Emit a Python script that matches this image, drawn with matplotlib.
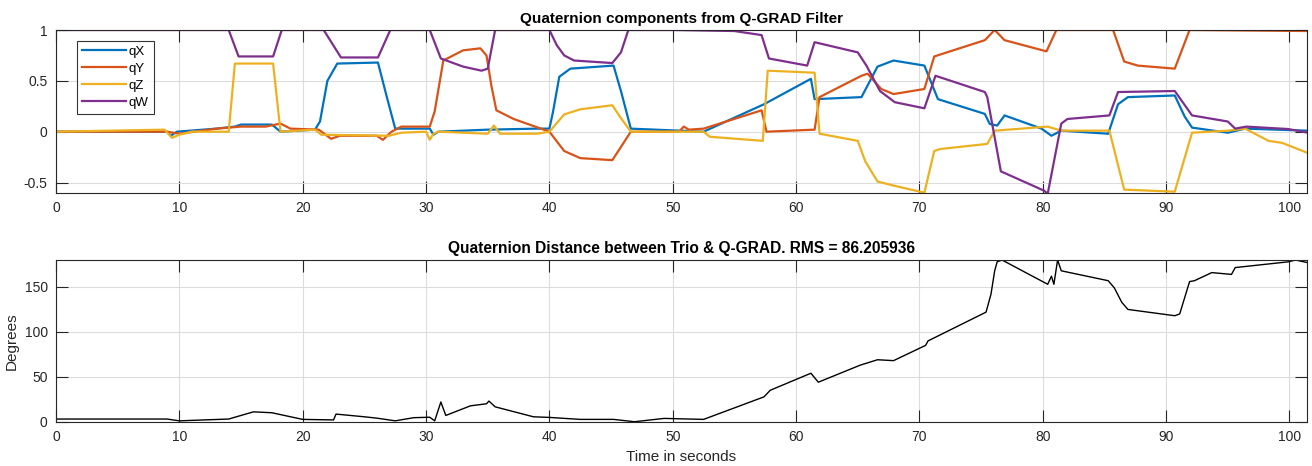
import numpy as np
import matplotlib
matplotlib.use("Agg")
import matplotlib.pyplot as plt
from matplotlib.ticker import FormatStrFormatter

plt.rcParams['font.family'] = ['Liberation Sans', 'DejaVu Sans']
plt.rcParams['axes.unicode_minus'] = False

# quaternion components (time in s, value)
t_qx = [0, 9.0, 9.3, 9.8, 13.0, 14.5, 15.0, 17.5, 18.2, 21.0, 21.4, 22.0, 22.8, 26.1, 26.8,
        27.5, 30.3, 30.6, 31.0, 35.0, 39.0, 40.0, 40.3, 40.8, 41.7, 45.2, 45.8, 46.6, 52.5,
        57.4, 61.2, 61.5, 65.3, 66.6, 67.9, 70.4, 71.5, 75.3, 75.7, 76.3, 76.9, 79.9, 80.7,
        81.5, 85.3, 86.1, 86.9, 90.7, 91.5, 92.1, 95.0, 96.4, 101.5]
qx = [0, 0, -0.04, 0, 0.03, 0.05, 0.07, 0.07, 0.0, 0.02, 0.1, 0.5, 0.67, 0.68, 0.35,
      0.03, 0.03, -0.03, 0.0, 0.02, 0.03, 0.03, 0.2, 0.54, 0.62, 0.65, 0.4, 0.03, 0.0,
      0.27, 0.52, 0.32, 0.34, 0.64, 0.70, 0.65, 0.32, 0.175, 0.076, 0.06, 0.16, 0.03, -0.04,
      0.01, -0.02, 0.27, 0.34, 0.356, 0.15, 0.04, -0.01, 0.03, 0.01]

t_qy = [0, 9.0, 10.0, 13.0, 15.0, 17.0, 18.2, 19.0, 21.3, 22.3, 23.0, 26.0, 26.5, 27.2, 28.0,
        30.3, 30.7, 31.4, 33.0, 34.4, 34.9, 35.3, 35.7, 37.1, 40.0, 41.2, 42.5, 45.1, 45.8,
        46.6, 50.5, 50.9, 51.3, 52.5, 57.2, 57.6, 61.5, 61.9, 65.3, 65.8, 66.9, 67.9, 70.4,
        71.2, 75.3, 76.1, 76.9, 80.3, 81.1, 85.7, 86.6, 87.7, 90.7, 91.9, 101.5]
qy = [0, 0, -0.02, 0.03, 0.05, 0.05, 0.08, 0.03, 0.02, -0.07, -0.04, -0.04, -0.08, 0.0, 0.05,
      0.05, 0.2, 0.70, 0.80, 0.82, 0.75, 0.45, 0.21, 0.125, 0.0, -0.19, -0.26, -0.28, -0.15,
      0.0, 0.0, 0.05, 0.02, 0.03, 0.21, 0.0, 0.02, 0.34, 0.55, 0.57, 0.42, 0.37, 0.42,
      0.74, 0.90, 1.0, 0.90, 0.79, 1.0, 1.0, 0.69, 0.65, 0.62, 1.0, 0.99]

t_qz = [0, 8.8, 9.4, 10.0, 11.0, 14.0, 14.5, 17.6, 18.2, 21.0, 21.5, 27.0, 28.0, 30.0, 30.3,
        30.6, 31.0, 35.0, 35.5, 36.0, 39.0, 40.0, 41.2, 42.5, 45.1, 45.7, 46.6, 52.5, 53.0,
        57.3, 57.7, 61.5, 61.9, 65.0, 65.6, 66.6, 67.9, 70.4, 71.2, 71.7, 75.5, 76.1, 80.4,
        81.5, 85.4, 86.6, 90.7, 92.1, 95.0, 96.4, 98.3, 99.4, 101.5]
qz = [0, 0.02, -0.06, -0.03, 0, 0, 0.67, 0.67, 0.0, 0.02, -0.03, -0.04, -0.01, 0, -0.08,
      -0.02, 0, -0.02, 0.06, -0.02, -0.02, 0, 0.17, 0.22, 0.26, 0.15, 0, 0, -0.05,
      -0.09, 0.60, 0.58, -0.02, -0.09, -0.29, -0.49, -0.53, -0.60, -0.19, -0.17, -0.12, 0.01, 0.05,
      0.01, 0.01, -0.57, -0.59, -0.01, 0.01, 0.03, -0.09, -0.11, -0.21]

t_qw = [0, 14.0, 14.8, 17.6, 18.3, 21.7, 23.1, 26.1, 27.1, 30.3, 31.2, 33.0, 34.5, 35.0, 35.6,
        40.0, 40.6, 41.2, 42.0, 45.1, 45.8, 46.4, 50.0, 55.0, 57.2, 57.8, 60.9, 61.5, 65.0,
        65.7, 66.8, 68.0, 70.4, 71.3, 75.3, 75.5, 76.6, 80.1, 80.4, 81.5, 82.0, 85.4, 86.1,
        90.7, 92.1, 95.0, 95.6, 96.5, 99.9, 101.5]
qw = [1, 1, 0.74, 0.74, 1.0, 1.0, 0.73, 0.73, 1.0, 1.0, 0.72, 0.64, 0.60, 0.62, 1.0,
      1.0, 0.85, 0.75, 0.70, 0.675, 0.78, 1.0, 1.0, 0.99, 0.95, 0.72, 0.65, 0.88, 0.78,
      0.65, 0.40, 0.29, 0.23, 0.55, 0.39, 0.34, -0.39, -0.58, -0.61, 0.08, 0.125, 0.16, 0.39,
      0.40, 0.16, 0.10, 0.03, 0.05, 0.026, -0.01]

# angular distance between the two filters (degrees)
t_dist = [0, 9.0, 10.0, 14.0, 15.0, 16.0, 17.5, 20.0, 22.5, 22.7, 25.0, 26.0, 27.5, 29.0, 30.3,
          30.7, 31.2, 31.6, 33.6, 34.9, 35.1, 35.6, 38.7, 40.0, 42.5, 45.2, 46.9, 49.3, 52.5,
          57.4, 57.9, 61.2, 61.8, 65.2, 66.6, 67.9, 70.5, 70.7, 75.4, 75.8, 76.1, 76.3, 76.7,
          80.4, 80.7, 80.9, 81.2, 81.5, 85.3, 85.8, 86.4, 86.9, 90.7, 91.1, 91.9, 92.3, 93.7,
          95.3, 95.6, 99.9, 100.5, 101.5]
dist = [3, 3, 1, 3, 7, 11, 10, 2.6, 2, 8.5, 5.5, 4, 1, 4.5, 5,
        1, 22, 7, 17.7, 20, 23, 16.6, 5.5, 4.8, 2.6, 2.6, 0, 3.7, 2.6,
        27.7, 35, 54, 44, 63, 69, 68, 85, 90, 122, 142, 168, 178, 180,
        153, 162, 153, 180, 168, 157, 149, 133, 125, 118, 120, 156, 157, 166,
        164, 171.6, 178, 180, 177]
rms = 86.205936

colors = ['#0072BD', '#D95319', '#EDB120', '#7E2F8E']
axcol = '#262626'
gridcol = '#dcdcdc'


def style(ax):
    ax.grid(True, color=gridcol, linewidth=0.8)
    ax.set_axisbelow(True)
    ax.tick_params(direction='in', length=8.5, width=0.8, top=True, right=True,
                   labelsize=10, colors=axcol, pad=6)
    for s in ax.spines.values():
        s.set_color(axcol)
        s.set_linewidth(0.8)


fig = plt.figure(figsize=(13.12, 4.66), dpi=100)
ax1 = fig.add_axes([0.0427, 0.5865, 0.9533, 0.3491])
ax2 = fig.add_axes([0.0427, 0.0950, 0.9533, 0.3470])

for tt, vv, c, lab in zip([t_qx, t_qy, t_qz, t_qw], [qx, qy, qz, qw], colors,
                          ['qX', 'qY', 'qZ', 'qW']):
    ax1.plot(tt, vv, color=c, linewidth=1.6, label=lab)
ax1.set_xlim(0, 101.4)
ax1.set_ylim(-0.6, 1)
ax1.set_xticks(np.arange(0, 101, 10))
ax1.set_yticks([-0.5, 0, 0.5, 1])
ax1.yaxis.set_major_formatter(FormatStrFormatter('%g'))
ax1.set_title('Quaternion components from Q-GRAD Filter', fontsize=11,
              fontweight='bold', pad=5)
style(ax1)
leg = ax1.legend(loc='upper left', bbox_to_anchor=(0.0168, 0.935), fontsize=9.5,
                 handlelength=3.3, frameon=True, fancybox=False, borderpad=0.4,
                 labelspacing=0.35, handletextpad=0.2, borderaxespad=0)
leg.get_frame().set_edgecolor('black')
leg.get_frame().set_linewidth(0.8)

ax2.plot(t_dist, dist, color='black', linewidth=1.0)
ax2.set_xlim(0, 101.4)
ax2.set_ylim(0, 180)
ax2.set_xticks(np.arange(0, 101, 10))
ax2.set_yticks([0, 50, 100, 150])
ax2.set_title(f'Quaternion Distance between Trio & Q-GRAD. RMS = {rms:.6f}',
              fontsize=11.2, fontweight='bold', pad=5)
ax2.set_xlabel('Time in seconds', fontsize=11, color=axcol, labelpad=4)
ax2.set_ylabel('Degrees', fontsize=11, color=axcol, labelpad=4)
style(ax2)

fig.savefig('out.png', dpi=100)
